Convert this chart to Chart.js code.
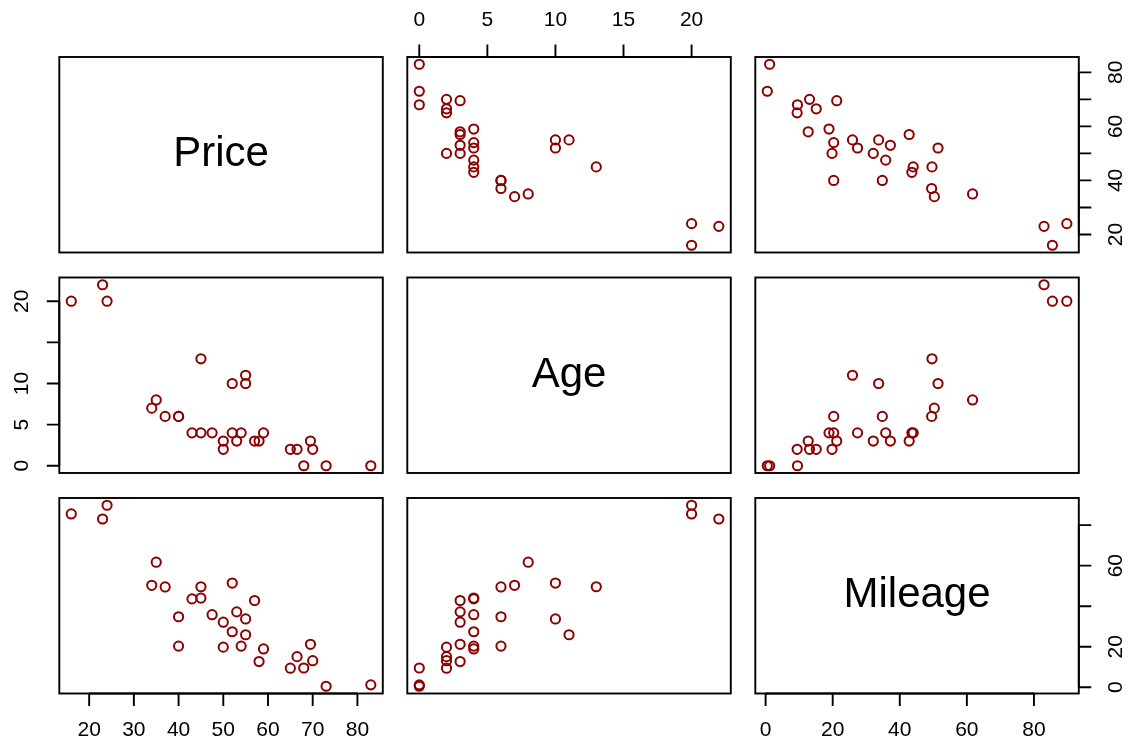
<!DOCTYPE html>
<html><head><meta charset="utf-8">
<script src="https://cdn.jsdelivr.net/npm/chart.js@4.4.0/dist/chart.umd.min.js"></script>
<style>
html,body{margin:0;padding:0;background:#fff;width:1129px;height:743px;overflow:hidden}
#wrap{position:relative;width:1129px;height:743px;background:#fff}
canvas{position:absolute;left:0;top:0}
</style></head><body><div id="wrap"></div>
<script>
// ---- data (one row per car) ----
const variables = ['Price', 'Age', 'Mileage'];
const price   = [83, 73, 68, 65, 70, 66.5, 50, 58, 69.5, 50, 53, 57, 59, 54, 52, 47.5, 45, 43, 40, 40, 37, 34, 35, 55, 52, 55, 45, 16, 24, 23];
const age     = [0, 0, 0, 2, 2, 2, 2, 3, 3, 3, 3, 3, 4, 4, 4, 4, 4, 4, 6, 6, 6, 7, 8, 10, 10, 11, 13, 20, 20, 22];
const mileage = [1.2, 0.5, 9.5, 9.4, 13.1, 15.1, 19.8, 12.7, 21.2, 32.1, 37.2, 42.8, 18.9, 20.3, 27.4, 35.8, 44.0, 43.6, 20.3, 34.8, 49.5, 50.3, 61.7, 33.7, 51.4, 25.9, 49.6, 85.5, 89.8, 83];

// ---- tick values / labels ----
const priceTicks = [20, 30, 40, 50, 60, 70, 80];
const priceBottomLabels = ['20', '30', '40', '50', '60', '70', '80'];
const priceRightLabels = ['20', '', '40', '', '60', '', '80'];
const ageTicks = [0, 5, 10, 15, 20];
const ageTopLabels = ['0', '5', '10', '15', '20'];
const ageLeftLabels = ['0', '5', '10', '', '20'];
const mileageTicks = [0, 20, 40, 60, 80];
const mileageBottomLabels = ['0', '20', '40', '60', '80'];
const mileageRightLabels = ['0', '20', '', '60', ''];

const series = [price, age, mileage];

// ---- layout / style ----
const W = 1129, H = 743;
const colLeft = [59.3, 407.3, 755.3], panelW = 323.5;
const rowTop = [57, 277.5, 498], panelH = 195.5;
const TICK_LEN = 12.5, LABEL_OFF = 37;
const FONT = '"Liberation Sans", Arial, Helvetica, sans-serif';
const POINT_COLOR = '#8B0000';

function range(arr) {
  const mn = Math.min(...arr), mx = Math.max(...arr), r = mx - mn;
  return [mn - 0.04 * r, mx + 0.04 * r];
}

// axes to draw per panel "row,col"
const panelAxes = {
  '0,1': [{ side: 'top', ticks: ageTicks, labels: ageTopLabels }],
  '0,2': [{ side: 'right', ticks: priceTicks, labels: priceRightLabels }],
  '1,0': [{ side: 'left', ticks: ageTicks, labels: ageLeftLabels }],
  '2,0': [{ side: 'bottom', ticks: priceTicks, labels: priceBottomLabels }],
  '2,2': [{ side: 'bottom', ticks: mileageTicks, labels: mileageBottomLabels },
          { side: 'right', ticks: mileageTicks, labels: mileageRightLabels }]
};

const decor = {
  id: 'pairsDecor',
  afterDatasetsDraw(chart, args, opts) {
    const ctx = chart.ctx, a = chart.chartArea;
    ctx.save();
    ctx.strokeStyle = '#000';
    ctx.lineWidth = 1.9;
    ctx.strokeRect(a.left, a.top, a.right - a.left, a.bottom - a.top);
    if (opts.label) {
      ctx.fillStyle = '#000';
      ctx.font = '42px ' + FONT;
      ctx.textAlign = 'center';
      ctx.textBaseline = 'middle';
      ctx.fillText(opts.label, (a.left + a.right) / 2, (a.top + a.bottom) / 2);
    }
    (opts.axes || []).forEach(ax => {
      const horiz = ax.side === 'top' || ax.side === 'bottom';
      const sc = horiz ? chart.scales.x : chart.scales.y;
      const px = ax.ticks.map(v => sc.getPixelForValue(v));
      const last = px.length - 1;
      ctx.strokeStyle = '#000';
      ctx.lineWidth = 1.9;
      ctx.beginPath();
      ctx.fillStyle = '#000';
      ctx.font = '21px ' + FONT;
      ctx.textAlign = 'center';
      ctx.textBaseline = 'middle';
      if (horiz) {
        const y0 = ax.side === 'top' ? a.top : a.bottom;
        const dir = ax.side === 'top' ? -1 : 1;
        ctx.moveTo(px[0], y0); ctx.lineTo(px[last], y0);
        px.forEach(p => { ctx.moveTo(p, y0); ctx.lineTo(p, y0 + dir * TICK_LEN); });
        ctx.stroke();
        px.forEach((p, k) => { if (ax.labels[k]) ctx.fillText(ax.labels[k], p, y0 + dir * LABEL_OFF); });
      } else {
        const x0 = ax.side === 'left' ? a.left : a.right;
        const dir = ax.side === 'left' ? -1 : 1;
        ctx.moveTo(x0, px[0]); ctx.lineTo(x0, px[last]);
        px.forEach(p => { ctx.moveTo(x0, p); ctx.lineTo(x0 + dir * TICK_LEN, p); });
        ctx.stroke();
        px.forEach((p, k) => {
          if (!ax.labels[k]) return;
          ctx.save();
          ctx.translate(x0 + dir * LABEL_OFF, p);
          ctx.rotate(-Math.PI / 2);
          ctx.fillText(ax.labels[k], 0, 0);
          ctx.restore();
        });
      }
    });
    ctx.restore();
  }
};

const wrap = document.getElementById('wrap');
for (let i = 0; i < 3; i++) {
  for (let j = 0; j < 3; j++) {
    const cv = document.createElement('canvas');
    cv.width = W; cv.height = H;
    cv.style.width = W + 'px'; cv.style.height = H + 'px';
    wrap.appendChild(cv);
    const xr = range(series[j]), yr = range(series[i]);
    const datasets = [];
    if (i !== j) {
      datasets.push({
        data: series[j].map((v, k) => ({ x: v, y: series[i][k] })),
        pointStyle: 'circle',
        pointRadius: 4.6,
        pointHoverRadius: 4.6,
        borderWidth: 2,
        borderColor: POINT_COLOR,
        backgroundColor: 'rgba(0,0,0,0)',
        clip: false
      });
    }
    new Chart(cv, {
      type: 'scatter',
      data: { datasets },
      options: {
        responsive: false,
        animation: false,
        devicePixelRatio: 1,
        events: [],
        layout: {
          padding: {
            left: colLeft[j],
            right: W - (colLeft[j] + panelW),
            top: rowTop[i],
            bottom: H - (rowTop[i] + panelH)
          }
        },
        scales: {
          x: { type: 'linear', display: false, min: xr[0], max: xr[1] },
          y: { type: 'linear', display: false, min: yr[0], max: yr[1] }
        },
        plugins: {
          legend: { display: false },
          tooltip: { enabled: false },
          pairsDecor: {
            label: i === j ? variables[i] : null,
            axes: panelAxes[i + ',' + j] || []
          }
        }
      },
      plugins: [decor]
    });
  }
}
</script>
</body></html>
